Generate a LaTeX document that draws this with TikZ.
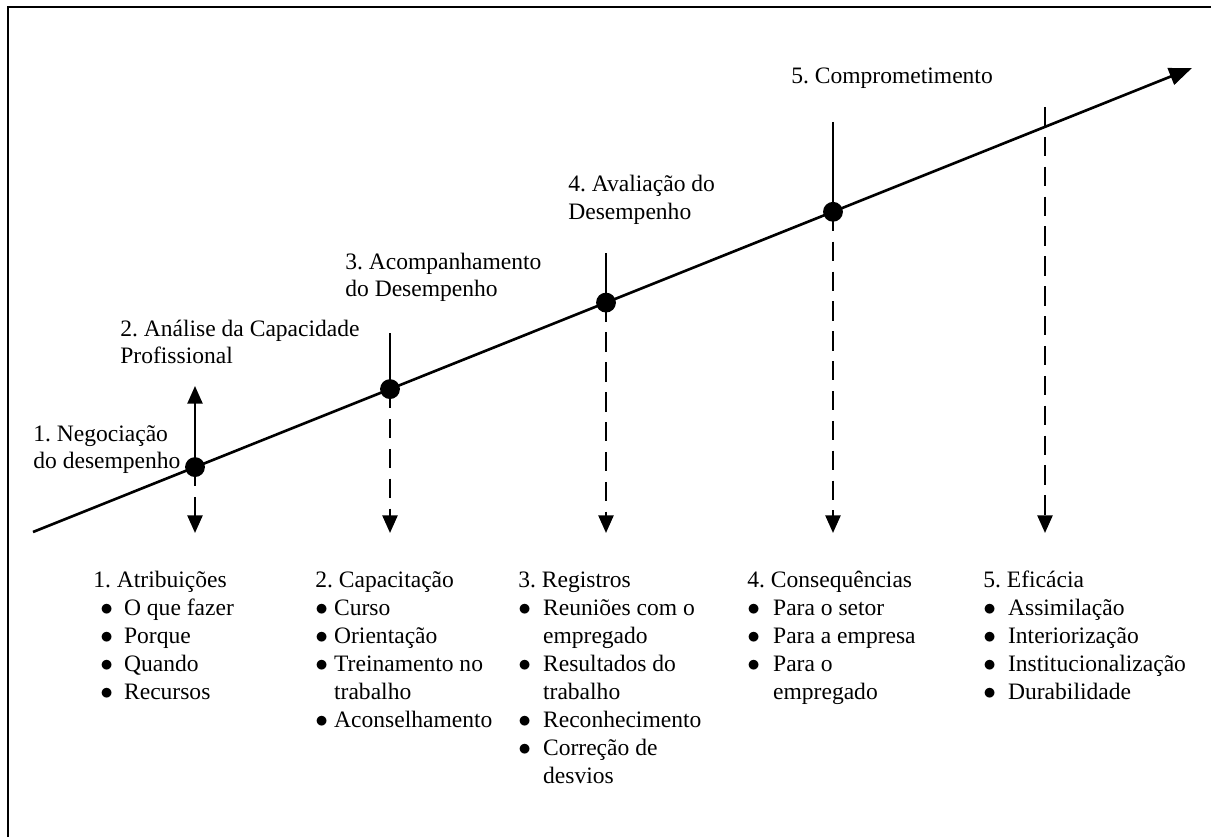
\documentclass[tikz,border=0pt]{standalone}
\usepackage{fontspec}
\setmainfont{Liberation Serif}
\usepackage{tikz}
\usetikzlibrary{arrows.meta}
\frenchspacing
\newcommand{\blist}[3]{\begin{tabular}[t]{@{\hspace{#1}}c@{\hspace{#2}}l@{}}#3\end{tabular}}
\newcommand{\colhead}[1]{\multicolumn{2}{@{}l@{}}{#1}}
\newcommand{\twolines}[1]{\begin{tabular}[t]{@{}l@{}}#1\end{tabular}}
\newcommand{\bul}{$\bullet$}
\tikzset{
  frame/.style={line width=1.6pt},
  axis/.style={line width=1.5pt, -{Triangle[length=13pt,width=10pt]}},
  dot/.style={circle, fill=black, inner sep=0pt, minimum size=11.3pt},
  tickline/.style={line width=0.9pt},
  uparrow/.style={line width=1.3pt, -{Triangle[length=10pt,width=8.5pt]}},
  downarrow/.style={line width=1.4pt, dash pattern=on 11pt off 6pt, -{Triangle[length=10pt,width=8.5pt]}},
  lab/.style={anchor=base west, inner sep=0pt, font=\fontsize{13.4}{15.4}\selectfont},
  list/.style={anchor=base west, inner sep=0pt, font=\fontsize{13.4}{16}\selectfont}
}
\begin{document}
\begin{tikzpicture}[x=0.02cm, y=-0.02cm]
  \useasboundingbox (0,0) rectangle (1211,838);

  % frame (top and left only)
  \coordinate (fl) at (8,837);
  \coordinate (fc) at (8,7);
  \coordinate (fr) at (1211,7);
  \draw[frame] (fl) -- (fc) -- (fr);

  % time line
  \coordinate (start) at (33,532);
  \coordinate (tip) at (1192,68);
  \draw[axis] (start) -- (tip);

  \node[dot] (d1) at (195,467.1) {};
  \node[dot] (d2) at (390,389.1) {};
  \node[dot] (d3) at (606,302.6) {};
  \node[dot] (d4) at (833,211.8) {};
  \coordinate (d5) at (1045,126.9);

  % marks above the line
  \coordinate (u1) at (195,386);
  \coordinate (u2) at (390,333);
  \coordinate (u3) at (606,253);
  \coordinate (u4) at (833,122);
  \coordinate (u5) at (1045,107);
  \draw[uparrow] (d1.center) -- (u1);
  \draw[tickline] (u2) -- (d2.center);
  \draw[tickline] (u3) -- (d3.center);
  \draw[tickline] (u4) -- (d4.center);

  % dashed arrows below
  \foreach \x/\p in {195/d1.center, 390/d2.center, 606/d3.center, 833/d4.center, 1045/u5}{
    \coordinate (b\x) at (\x,533);
    \draw[downarrow] (\p) -- (b\x);
  }

  % stage labels
  \node[lab] (neg) at (33,441) {\twolines{1. Negociação\\do desempenho}};
  \node[lab] (ana) at (120,336) {\twolines{2. Análise da Capacidade\\Profissional}};
  \node[lab] (aco) at (345,269) {\twolines{3. Acompanhamento\\do Desempenho}};
  \node[lab] (ava) at (568,192) {\twolines{4. Avaliação do\\Desempenho}};
  \node[lab] (com) at (791,84) {5. Comprometimento};

  % lists
  \node[list] (atr) at (93,587) {\blist{4pt}{6.3pt}{%
    \colhead{1. Atribuições}\\
    \bul & O que fazer\\
    \bul & Porque\\
    \bul & Quando\\
    \bul & Recursos}};
  \node[list] (cap) at (315,587) {\blist{0pt}{3.5pt}{%
    \colhead{2. Capacitação}\\
    \bul & Curso\\
    \bul & Orientação\\
    \bul & Treinamento no\\
         & trabalho\\
    \bul & Aconselhamento}};
  \node[list] (reg) at (518,587) {\blist{0pt}{6.9pt}{%
    \colhead{3. Registros}\\
    \bul & Reuniões com o\\
         & empregado\\
    \bul & Resultados do\\
         & trabalho\\
    \bul & Reconhecimento\\
    \bul & Correção de\\
         & desvios}};
  \node[list] (cons) at (747,587) {\blist{0pt}{7.5pt}{%
    \colhead{4. Consequências}\\
    \bul & Para o setor\\
    \bul & Para a empresa\\
    \bul & Para o\\
         & empregado}};
  \node[list] (efi) at (983,587) {\blist{0pt}{6.9pt}{%
    \colhead{5. Eficácia}\\
    \bul & Assimilação\\
    \bul & Interiorização\\
    \bul & Institucionalização\\
    \bul & Durabilidade}};
\end{tikzpicture}
\end{document}
